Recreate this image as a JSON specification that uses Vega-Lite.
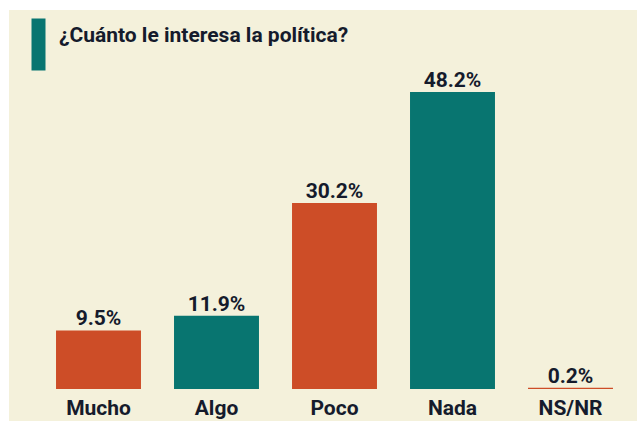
{
  "$schema": "https://vega.github.io/schema/vega-lite/v6.json",
  "width": 628,
  "height": 411,
  "autosize": "none",
  "padding": {"left": 9, "top": 10, "right": 0, "bottom": 0},
  "background": "#ffffff",
  "config": {
    "view": {"fill": "#f4f1db", "stroke": null},
    "font": "Roboto"
  },
  "title": {
    "text": "¿Cuánto le interesa la política?",
    "anchor": "start",
    "frame": "group",
    "orient": "top",
    "offset": 0,
    "dx": 50,
    "dy": 53,
    "baseline": "alphabetic",
    "fontSize": 21,
    "fontWeight": "bold",
    "color": "#151b2c"
  },
  "data": {
    "values": [
      {"respuesta": "Mucho", "porcentaje": 9.5, "etiqueta": "9.5%"},
      {"respuesta": "Algo", "porcentaje": 11.9, "etiqueta": "11.9%"},
      {"respuesta": "Poco", "porcentaje": 30.2, "etiqueta": "30.2%"},
      {"respuesta": "Nada", "porcentaje": 48.2, "etiqueta": "48.2%"},
      {"respuesta": "NS/NR", "porcentaje": 0.2, "etiqueta": "0.2%"}
    ]
  },
  "encoding": {
    "x": {
      "field": "respuesta",
      "type": "nominal",
      "sort": null,
      "scale": {"range": [30.5, 620.5], "paddingInner": 0.28, "paddingOuter": 0.14},
      "axis": {
        "orient": "bottom",
        "offset": -32,
        "domain": false,
        "ticks": false,
        "tickSize": 0,
        "labelPadding": 25,
        "labelBaseline": "alphabetic",
        "labelAngle": 0,
        "labelFontSize": 21,
        "labelFontWeight": "bold",
        "labelColor": "#151b2c",
        "title": null
      }
    },
    "y": {
      "field": "porcentaje",
      "type": "quantitative",
      "scale": {"domain": [-5.19, 61.51], "nice": false, "zero": false},
      "axis": {
        "orient": "left",
        "values": [56],
        "offset": -36,
        "ticks": true,
        "tickSize": 14,
        "tickWidth": 52,
        "tickCap": "butt",
        "tickColor": "#087570",
        "labels": false,
        "domain": false,
        "grid": false,
        "title": null
      }
    }
  },
  "layer": [
    {
      "mark": {"type": "bar"},
      "encoding": {
        "y2": {"datum": 0},
        "color": {
          "field": "respuesta",
          "type": "nominal",
          "scale": {
            "domain": ["Mucho", "Algo", "Poco", "Nada", "NS/NR"],
            "range": ["#cd4d27", "#087570", "#cd4d27", "#087570", "#cd4d27"]
          },
          "legend": null
        }
      }
    },
    {
      "mark": {
        "type": "text",
        "dy": -5,
        "baseline": "alphabetic",
        "fontSize": 21,
        "fontWeight": "bold",
        "color": "#151b2c"
      },
      "encoding": {"text": {"field": "etiqueta", "type": "nominal"}}
    }
  ]
}
